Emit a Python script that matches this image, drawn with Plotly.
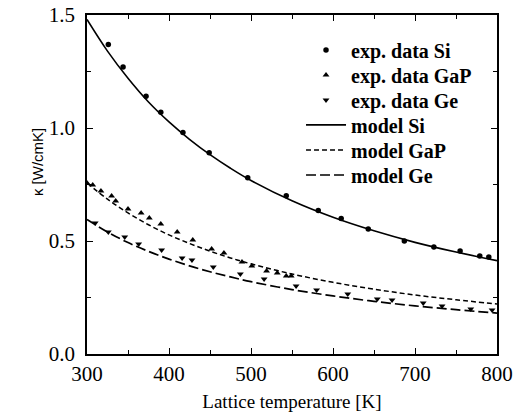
import plotly.graph_objects as go

# Experimental data
si_T = [326, 344, 372, 390, 417, 449, 496, 543, 582, 610, 643, 687, 723, 755, 779, 790]
si_k = [1.37, 1.27, 1.14, 1.07, 0.98, 0.89, 0.78, 0.70, 0.635, 0.60, 0.553, 0.50, 0.473, 0.456, 0.434, 0.429]

gap_T = [300, 307, 317, 330, 335, 350, 366, 376, 390, 410, 429, 452, 467, 489, 501, 519, 532, 543, 549]
gap_k = [0.757, 0.748, 0.721, 0.699, 0.677, 0.642, 0.624, 0.602, 0.575, 0.540, 0.504, 0.465, 0.447, 0.407, 0.389, 0.367, 0.358, 0.345, 0.345]

ge_T = [310, 326, 346, 363, 391, 416, 428, 454, 487, 516, 555, 580, 618, 654, 672, 710, 733, 768, 794]
ge_k = [0.580, 0.540, 0.518, 0.487, 0.460, 0.425, 0.416, 0.385, 0.354, 0.332, 0.301, 0.283, 0.265, 0.243, 0.239, 0.226, 0.212, 0.199, 0.195]

# Model curves
model_T = [300, 325, 350, 375, 400, 425, 450, 475, 500, 550, 600, 650, 700, 750, 800]
model_si = [1.48, 1.34, 1.22, 1.115, 1.027, 0.95, 0.882, 0.822, 0.768, 0.678, 0.605, 0.545, 0.494, 0.451, 0.413]
model_gap = [0.757, 0.685, 0.624, 0.572, 0.527, 0.489, 0.455, 0.425, 0.399, 0.354, 0.317, 0.287, 0.261, 0.240, 0.221]
model_ge = [0.595, 0.540, 0.493, 0.454, 0.420, 0.390, 0.364, 0.341, 0.320, 0.285, 0.257, 0.233, 0.213, 0.196, 0.181]

SERIF = "Liberation Serif"
SANS = "Liberation Sans"

fig = go.Figure()
fig.add_trace(go.Scatter(x=si_T, y=si_k, mode="markers", name="exp. data Si", legend="legend",
                         marker=dict(symbol="circle", size=5.5, color="black")))
fig.add_trace(go.Scatter(x=gap_T, y=gap_k, mode="markers", name="exp. data GaP", legend="legend2",
                         marker=dict(symbol="triangle-up", size=6, color="black")))
fig.add_trace(go.Scatter(x=ge_T, y=ge_k, mode="markers", name="exp. data Ge", legend="legend3",
                         marker=dict(symbol="triangle-down", size=6, color="black")))
fig.add_trace(go.Scatter(x=model_T, y=model_si, mode="lines", name="model Si", legend="legend4",
                         line=dict(color="black", width=1.6, shape="spline")))
fig.add_trace(go.Scatter(x=model_T, y=model_gap, mode="lines", name="model GaP", legend="legend5",
                         line=dict(color="black", width=1.5, dash="5px,3px", shape="spline")))
fig.add_trace(go.Scatter(x=model_T, y=model_ge, mode="lines", name="model Ge", legend="legend6",
                         line=dict(color="black", width=1.7, dash="10px,4px", shape="spline")))

axis_common = dict(
    showgrid=False, zeroline=False, showline=True, linecolor="black", linewidth=1.5,
    mirror="ticks", ticks="inside", ticklen=6, tickwidth=1.2, tickcolor="black",
    tickfont=dict(size=21, color="black"),
)

legend_font = dict(family=SERIF, size=20, color="black", weight="bold")
legend_y = [0.897, 0.823, 0.749, 0.676, 0.602, 0.528]
legends = {}
for i, yy in enumerate(legend_y):
    key = "legend" if i == 0 else f"legend{i + 1}"
    legends[key] = dict(x=0.522, y=yy, xanchor="left", yanchor="middle",
                        bgcolor="rgba(0,0,0,0)", font=legend_font, itemwidth=40)

fig.update_layout(
    template="none",
    font=dict(family=SERIF, color="black"),
    width=520, height=415,
    margin=dict(l=87, r=23, t=15, b=61),
    paper_bgcolor="white", plot_bgcolor="white",
    showlegend=True,
    **legends,
    xaxis=dict(range=[300, 800], dtick=100, tick0=300,
               minor=dict(dtick=50, ticks="inside", ticklen=4, tickcolor="black", tickwidth=1),
               title=dict(text="Lattice temperature [K]", standoff=10,
                          font=dict(size=19, color="black")),
               **axis_common),
    yaxis=dict(range=[0, 1.5], dtick=0.5, tick0=0, tickformat=".1f",
               minor=dict(dtick=0.25, ticks="inside", ticklen=4, tickcolor="black", tickwidth=1),
               ticklabelstandoff=6,
               **axis_common),
    annotations=[dict(text="κ [W/cmK]", xref="paper", yref="paper", x=-0.122, y=0.566,
                      textangle=-90, showarrow=False, xanchor="center", yanchor="middle",
                      font=dict(family=SANS, size=15, color="black"))],
)

fig.write_html("out.html")
